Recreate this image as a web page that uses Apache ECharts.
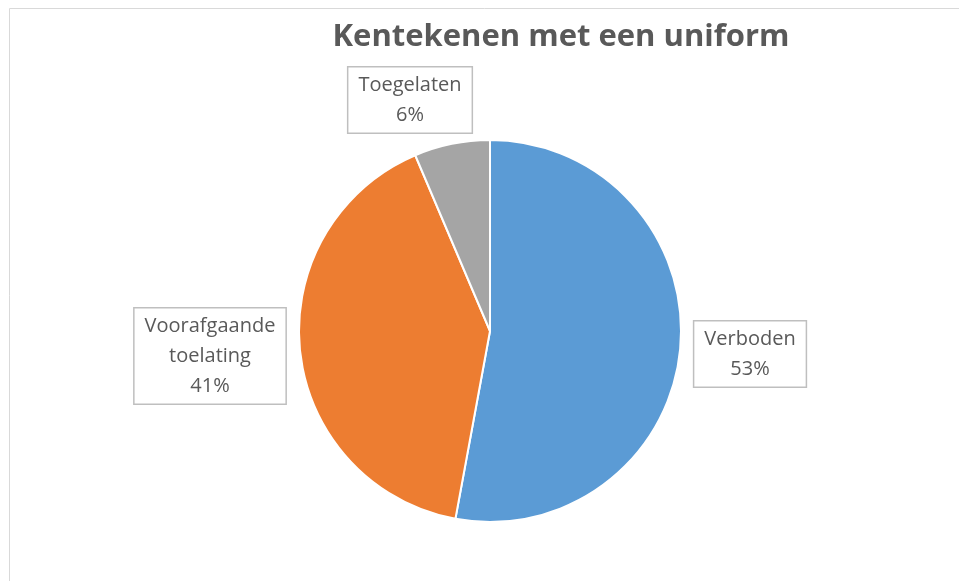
<!DOCTYPE html>
<html>
<head>
<meta charset="utf-8">
<script src="https://cdn.jsdelivr.net/npm/echarts@6/dist/echarts.min.js"></script>
<style>
  html, body { margin: 0; padding: 0; background: #fff; }
  #chart { width: 959px; height: 581px; }
</style>
</head>
<body>
<div id="chart"></div>
<script>
var names = ['Verboden', 'Voorafgaande\ntoelating', 'Toegelaten'];
var values = [52.9, 40.7, 6.4];
var colors = ['#5B9BD5', '#ED7D31', '#A5A5A5'];
// label box centres (px)
var labelPos = [[750, 354], [210, 356], [410, 100]];

var myChart = echarts.init(document.getElementById('chart'));

var data = [];
for (var i = 0; i < names.length; i++) {
    data.push({ name: names[i], value: values[i], itemStyle: { color: colors[i] } });
}

var option = {
    animation: false,
    title: {
        text: 'Kentekenen met een uniform',
        left: 556,
        top: 17,
        textAlign: 'center',
        textStyle: {
            fontFamily: 'Open Sans',
            fontSize: 31,
            fontWeight: 'bold',
            color: '#595959'
        }
    },
    graphic: [{
        type: 'rect',
        shape: { x: 9.5, y: 8.5, width: 1000, height: 600 },
        style: { fill: 'none', stroke: '#D9D9D9', lineWidth: 1 },
        silent: true
    }],
    series: [{
        type: 'pie',
        center: [490, 331],
        radius: 191,
        startAngle: 90,
        clockwise: true,
        percentPrecision: 0,
        data: data,
        itemStyle: { borderColor: '#fff', borderWidth: 2 },
        label: {
            show: true,
            formatter: '{b}\n{d}%',
            fontFamily: 'Open Sans',
            fontSize: 20,
            lineHeight: 30,
            color: '#595959',
            align: 'center',
            backgroundColor: '#fff',
            borderColor: '#BFBFBF',
            borderWidth: 1.5,
            padding: [3, 10, 2, 10]
        },
        labelLine: { show: false },
        labelLayout: function (params) {
            var p = labelPos[params.dataIndex];
            return { x: p[0], y: p[1], align: 'center', verticalAlign: 'middle' };
        }
    }]
};
myChart.setOption(option);
</script>
</body>
</html>
